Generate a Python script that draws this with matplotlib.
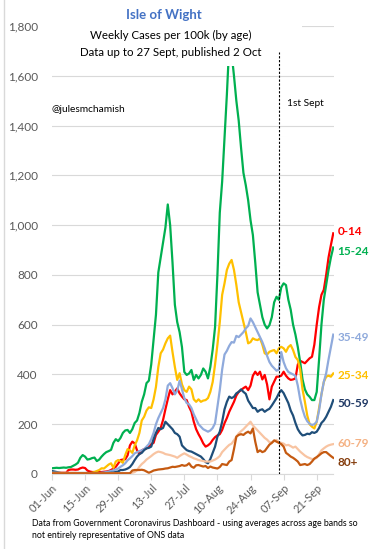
import pandas as pd
import matplotlib
matplotlib.use('Agg')
from matplotlib import pyplot as plt
import matplotlib.dates as mdates
from matplotlib.patches import Rectangle
from matplotlib.lines import Line2D
from matplotlib.ticker import FuncFormatter

plt.rcParams['font.family'] = ['Lato', 'DejaVu Sans']

dates = pd.date_range('2021-06-01', '2021-09-28')

age_0_14 = [5, 5, 5, 5, 5, 5, 5, 16, 18, 18,
            17, 18, 23, 26, 24, 14, 10, 8, 8, 8,
            8, 8, 9, 10, 12, 16, 22, 29, 42, 56,
            58, 59, 75, 115, 130, 123, 95, 80, 95, 100,
            103, 110, 120, 125, 157, 170, 185, 217, 260, 300,
            337, 320, 331, 344, 324, 311, 300, 297, 270, 250,
            210, 180, 160, 143, 123, 110, 115, 123, 137, 148,
            155, 160, 177, 204, 225, 250, 270, 290, 315, 330,
            337, 345, 351, 337, 355, 395, 411, 398, 411, 380,
            398, 360, 300, 351, 371, 391, 391, 395, 411, 395,
            384, 378, 380, 384, 440, 455, 450, 445, 455, 465,
            471, 520, 600, 670, 720, 740, 800, 870, 920, 967]

age_15_24 = [23, 24, 25, 24, 25, 26, 25, 27, 28, 33,
             38, 45, 65, 76, 70, 58, 60, 64, 66, 52,
             58, 70, 80, 88, 92, 97, 125, 140, 132, 145,
             165, 175, 177, 165, 180, 205, 215, 245, 290, 320,
             365, 375, 440, 540, 640, 810, 870, 930, 990, 1083,
             1000, 850, 680, 610, 570, 510, 410, 398, 404, 418,
             378, 398, 384, 398, 424, 411, 384, 430, 500, 590,
             800, 1050, 1175, 1350, 1525, 1725, 1690, 1600, 1500, 1420,
             1310, 1210, 1160, 1100, 1020, 960, 850, 730, 680, 630,
             600, 585, 598, 630, 690, 712, 700, 750, 766, 759,
             700, 660, 600, 560, 510, 450, 380, 340, 320, 310,
             297, 297, 330, 460, 600, 700, 760, 820, 870, 910]

age_25_34 = [3, 3, 3, 3, 3, 3, 3, 3, 3, 3,
             3, 3, 3, 3, 3, 3, 3, 5, 8, 12,
             16, 23, 22, 30, 38, 43, 25, 50, 56, 52,
             45, 76, 100, 95, 85, 115, 135, 165, 215, 230,
             255, 268, 265, 300, 350, 430, 485, 500, 525, 545,
             556, 490, 430, 378, 405, 360, 337, 330, 351, 340,
             300, 290, 300, 290, 295, 297, 305, 330, 370, 440,
             520, 610, 720, 766, 820, 845, 860, 820, 760, 690,
             650, 610, 570, 525, 530, 545, 540, 538, 545, 520,
             485, 480, 491, 495, 498, 485, 505, 511, 505, 491,
             510, 518, 498, 470, 458, 420, 340, 290, 235, 200,
             190, 183, 210, 265, 320, 370, 391, 395, 391, 404]

age_35_49 = [3, 3, 3, 3, 3, 3, 3, 3, 3, 3,
             3, 3, 3, 3, 3, 3, 3, 3, 3, 3,
             3, 5, 6, 8, 10, 12, 15, 18, 22, 29,
             35, 43, 55, 63, 72, 83, 88, 92, 95, 100,
             110, 120, 140, 165, 200, 225, 245, 265, 300, 355,
             365, 345, 320, 335, 375, 340, 305, 285, 280, 265,
             240, 220, 200, 190, 180, 175, 170, 175, 185, 204,
             270, 337, 420, 480, 495, 515, 530, 528, 555, 550,
             560, 570, 585, 595, 625, 610, 590, 570, 550, 530,
             505, 475, 450, 435, 425, 415, 420, 490, 450, 425,
             410, 405, 400, 395, 355, 300, 260, 230, 212, 202,
             197, 200, 210, 255, 320, 370, 405, 460, 510, 560]

age_50_59 = [12, 10, 8, 6, 4, 4, 4, 4, 4, 4,
             4, 4, 4, 4, 4, 4, 4, 4, 4, 4,
             4, 4, 4, 4, 4, 5, 6, 8, 10, 16,
             16, 18, 22, 28, 40, 56, 70, 80, 85, 96,
             103, 105, 110, 140, 165, 185, 180, 185, 210, 200,
             190, 180, 165, 160, 150, 115, 105, 96, 92, 90,
             85, 80, 75, 70, 60, 48, 43, 60, 85, 110,
             150, 170, 210, 260, 290, 311, 305, 310, 324, 330,
             340, 330, 322, 295, 280, 265, 265, 250, 257, 260,
             250, 257, 262, 275, 290, 305, 324, 337, 325, 305,
             285, 255, 235, 205, 180, 165, 155, 157, 162, 160,
             168, 165, 170, 185, 205, 215, 230, 250, 270, 297]

age_60_79 = [5, 5, 5, 5, 5, 5, 5, 5, 5, 5,
             5, 3, 3, 3, 3, 3, 3, 3, 3, 3,
             3, 3, 3, 3, 3, 3, 3, 3, 3, 3,
             3, 3, 3, 3, 5, 8, 15, 29, 40, 48,
             58, 65, 72, 80, 86, 90, 88, 85, 80, 78,
             76, 73, 70, 65, 72, 78, 83, 78, 72, 68,
             63, 60, 56, 54, 52, 50, 50, 50, 54, 58,
             64, 72, 88, 98, 108, 117, 122, 135, 150, 163,
             172, 180, 190, 200, 210, 195, 185, 175, 165, 155,
             145, 138, 128, 126, 132, 137, 128, 125, 122, 115,
             117, 112, 106, 110, 100, 90, 82, 74, 68, 64,
             60, 60, 65, 80, 95, 103, 110, 115, 118, 120]

age_80 = [3, 3, 3, 3, 3, 3, 3, 3, 3, 3,
          3, 3, 3, 3, 3, 3, 3, 3, 3, 3,
          3, 3, 3, 3, 3, 3, 3, 3, 3, 3,
          3, 3, 3, 3, 14, 16, 16, 16, 17, 15,
          10, 5, 9, 14, 16, 18, 19, 20, 22, 23,
          26, 29, 28, 30, 32, 36, 33, 35, 43, 30,
          25, 35, 36, 33, 30, 32, 24, 30, 26, 24,
          22, 28, 40, 38, 36, 50, 56, 100, 150, 157,
          160, 157, 165, 170, 163, 183, 130, 88, 95, 88,
          92, 105, 118, 125, 135, 130, 125, 120, 110, 85,
          78, 70, 65, 58, 50, 36, 38, 40, 36, 40,
          50, 62, 68, 75, 83, 88, 88, 80, 72, 65]

series = [
    ('0-14', age_0_14, '#FF0000', '#FF0000', 975),
    ('15-24', age_15_24, '#00B050', '#00B050', 895),
    ('25-34', age_25_34, '#FFC000', '#FFC000', 394),
    ('35-49', age_35_49, '#8FAADC', '#8FAADC', 550),
    ('50-59', age_50_59, '#1F4E79', '#1F3864', 285),
    ('60-79', age_60_79, '#F8C4A2', '#F4B183', 124),
    ('80+', age_80, '#C55A11', '#843C0C', 48),
]

W, H = 373, 549
fig = plt.figure(figsize=(W / 100, H / 100), dpi=100)
ax = fig.add_axes([51.7 / W, 1 - 474 / H, (333.5 - 51.7) / W, (474 - 26) / H])

for name, vals, col, lab_col, lab_y in series:
    ax.plot(dates, vals, color=col, lw=1.6, solid_joinstyle='round')
    ax.text(dates[-1] + pd.Timedelta(days=1.8), lab_y, name, color=lab_col,
            fontsize=8.5, fontweight='bold', va='center', ha='left', clip_on=False)

# 1st Sept marker
sep_x = pd.Timestamp('2021-09-05')
ax.plot([sep_x, sep_x], [0, 1695], color='black', lw=0.8, ls=(0, (2, 1.5)), zorder=5)

ax.set_ylim(0, 1800)
ax.set_xlim(dates[0] - pd.Timedelta(days=0.1), dates[-1] + pd.Timedelta(days=0.1))
ax.set_yticks(range(0, 1801, 200))
ax.yaxis.set_major_formatter(FuncFormatter(lambda v, p: '{:,.0f}'.format(v)))
ax.xaxis.set_major_locator(mdates.DayLocator(bymonthday=None, interval=14))
ax.set_xticks(pd.date_range('2021-06-01', '2021-09-28', freq='14D'))
ax.xaxis.set_major_formatter(mdates.DateFormatter('%d-%b'))

ax.grid(axis='y', color='#D9D9D9', lw=0.8)
ax.set_axisbelow(True)
for s in ['left', 'top', 'right']:
    ax.spines[s].set_visible(False)
ax.spines['bottom'].set_color('#D9D9D9')
ax.spines['bottom'].set_linewidth(0.8)
ax.tick_params(axis='y', length=0, pad=10, labelsize=8.5, labelcolor='#595959')
ax.tick_params(axis='x', length=4, width=0.8, color='#D9D9D9', labelsize=8,
               labelcolor='#595959', pad=2)
for lab in ax.get_xticklabels():
    lab.set_rotation(45)
    lab.set_ha('right')
    lab.set_rotation_mode('anchor')

# white boxes behind title and subtitle
fig.add_artist(Rectangle((45 / W, 1 - 30 / H), (302 - 45) / W, 12 / H,
                         transform=fig.transFigure, facecolor='white', edgecolor='none'))
fig.add_artist(Rectangle((80 / W, 1 - 66 / H), (262 - 80) / W, 38 / H,
                         transform=fig.transFigure, facecolor='white', edgecolor='none'))
fig.add_artist(Line2D([4 / W, 4 / W], [0, 1], color='#D9D9D9', lw=1,
                      transform=fig.transFigure))

fig.text(164 / W, 1 - 15 / H, 'Isle of Wight', color='#4472C4', fontsize=9.5,
         fontweight='bold', ha='center', va='center')
fig.text(171 / W, 1 - 35 / H, 'Weekly Cases per 100k (by age)', fontsize=8.3,
         ha='center', va='center')
fig.text(171 / W, 1 - 52 / H, 'Data up to 27 Sept, published 2 Oct', fontsize=8.3,
         ha='center', va='center')
fig.text(51 / W, 1 - 109 / H, '@julesmchamish', fontsize=7.3, ha='left', va='center')
fig.text(287 / W, 1 - 103 / H, '1st Sept', fontsize=7.3, ha='left', va='center')
fig.text(32 / W, 1 - 523 / H,
         'Data from Government Coronavirus Dashboard - using averages across age bands so',
         fontsize=6.3, ha='left', va='center')
fig.text(32 / W, 1 - 535 / H, 'not entirely representative of ONS data',
         fontsize=6.3, ha='left', va='center')

fig.savefig('out.png', dpi=100)
